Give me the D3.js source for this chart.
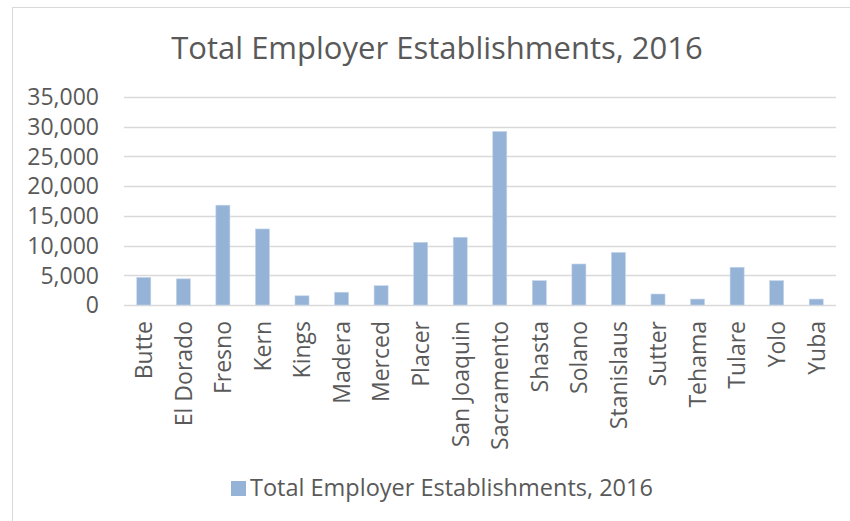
<!DOCTYPE html>
<html><head><meta charset="utf-8">
<script src="https://cdn.jsdelivr.net/npm/d3@7"></script>
<style>html,body{margin:0;padding:0;background:#fff;overflow:hidden}</style>
</head><body>
<svg id="chart" width="850" height="521"></svg>
<script>
const title = "Total Employer Establishments, 2016";
const seriesName = "Total Employer Establishments, 2016";
const counties = ["Butte","El Dorado","Fresno","Kern","Kings","Madera","Merced","Placer","San Joaquin","Sacramento","Shasta","Solano","Stanislaus","Sutter","Tehama","Tulare","Yolo","Yuba"];
const establishments = [4650,4400,16800,12800,1550,2150,3250,10550,11400,29200,4100,6900,8850,1850,1000,6350,4100,1000];
const yTicks = [0,5000,10000,15000,20000,25000,30000,35000];

const svg = d3.select("#chart");
const font = "'Open Sans', sans-serif";
const textColor = "#595959";
const plotLeft = 124, plotRight = 836, plotTop = 97, plotBottom = 305;

svg.append("rect").attr("x",12.5).attr("y",7.5).attr("width",900).attr("height",600)
  .attr("fill","#fff").attr("stroke","#d9d9d9").attr("stroke-width",1);

const x = d3.scaleBand().domain(counties).range([plotLeft,plotRight]).paddingInner(0.645).paddingOuter(0.3225);
const y = d3.scaleLinear().domain([0,35000]).range([plotBottom,plotTop]);

// gridlines
svg.append("g").selectAll("line").data(yTicks).join("line")
  .attr("x1",plotLeft).attr("x2",plotRight)
  .attr("y1",d=>Math.round(y(d))+0.5).attr("y2",d=>Math.round(y(d))+0.5)
  .attr("stroke","#d9d9d9").attr("stroke-width",1.3);

// y axis labels
const yAxis = d3.axisLeft(y).tickValues(yTicks).tickFormat(d3.format(",")).tickSize(0).tickPadding(0);
const gy = svg.append("g").attr("transform",`translate(99,0)`).call(yAxis);
gy.select(".domain").remove();
gy.selectAll("text").attr("font-family",font).attr("font-size",23).attr("fill",textColor).attr("dy","0.34em");

// bars
svg.append("g").selectAll("rect").data(counties).join("rect")
  .attr("x",d=>x(d)).attr("width",x.bandwidth())
  .attr("y",(d,i)=>y(establishments[i])).attr("height",(d,i)=>y(0)-y(establishments[i]))
  .attr("fill","#95b3d7").attr("stroke","#c6d6ea").attr("stroke-width",0.6);

// x axis labels
const xAxis = d3.axisBottom(x).tickSize(0).tickPadding(0);
const gx = svg.append("g").attr("transform",`translate(0,${plotBottom})`).call(xAxis);
gx.select(".domain").remove();
gx.selectAll("text")
  .attr("font-family",font).attr("font-size",23).attr("fill",textColor)
  .attr("text-anchor","end").attr("transform","rotate(-90)")
  .attr("x",-16).attr("y",0).attr("dy","0.36em");

// title
svg.append("text").attr("x",437).attr("y",59).attr("text-anchor","middle")
  .attr("font-family",font).attr("font-size",31).attr("fill",textColor).text(title);

// legend
const lg = svg.append("g");
lg.append("rect").attr("x",231).attr("y",481).attr("width",15).attr("height",15).attr("fill","#95b3d7");
lg.append("text").attr("x",250).attr("y",496).attr("font-family",font).attr("font-size",23.5)
  .attr("fill",textColor).text(seriesName);
</script>
</body></html>
